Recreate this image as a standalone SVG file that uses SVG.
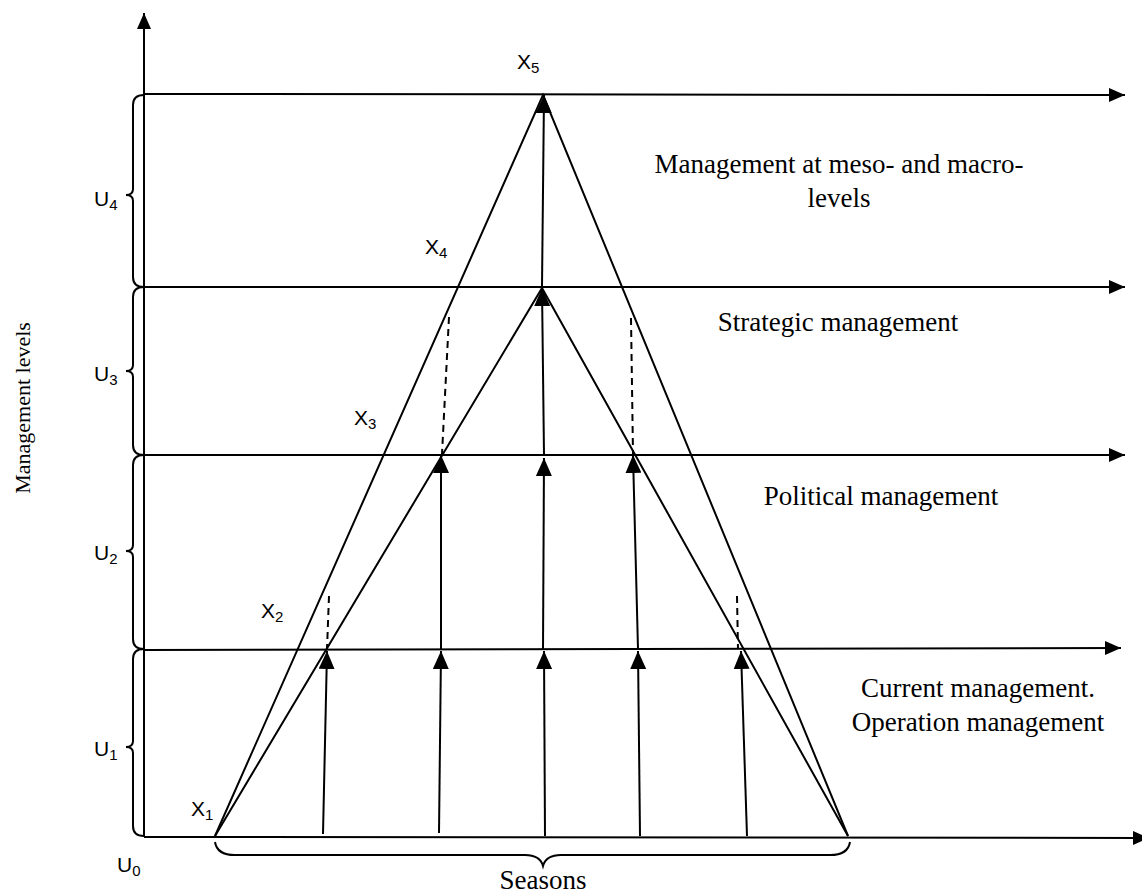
<svg xmlns="http://www.w3.org/2000/svg" width="1142" height="895" viewBox="0 0 1142 895">
<style>
.ln{stroke:#000;stroke-width:2;fill:none}
.dash{stroke:#000;stroke-width:2;fill:none;stroke-dasharray:7 5}
.br{stroke:#000;stroke-width:2;fill:none}
.serif{font-family:"Liberation Serif","Times New Roman",serif;font-size:27px;fill:#000}
.sans{font-family:"Liberation Sans",Arial,sans-serif;font-size:21px;fill:#000}
.sub{font-size:15px}
</style>
<defs>
<marker id="ah" viewBox="0 0 18 16" refX="18" refY="8" markerWidth="18" markerHeight="16" markerUnits="userSpaceOnUse" orient="auto">
<path d="M0,0 L18,8 L0,16 z" fill="#000"/>
</marker>
<marker id="ahh" viewBox="0 0 16 14" refX="16" refY="7" markerWidth="16" markerHeight="14" markerUnits="userSpaceOnUse" orient="auto">
<path d="M0,0 L16,7 L0,14 z" fill="#000"/>
</marker>
</defs>
<rect width="1142" height="895" fill="#fff"/>
<g id="axes">
<line class="ln" x1="144" y1="836" x2="144" y2="13" marker-end="url(#ahh)"/>
<line class="ln" x1="144" y1="837" x2="1149" y2="838" marker-end="url(#ahh)"/>
</g>
<g id="levels">
<line class="ln" x1="144" y1="94" x2="1125" y2="95" marker-end="url(#ahh)"/>
<line class="ln" x1="144" y1="287" x2="1125" y2="287" marker-end="url(#ahh)"/>
<line class="ln" x1="144" y1="455" x2="1125" y2="455" marker-end="url(#ahh)"/>
<line class="ln" x1="144" y1="650" x2="1121" y2="648" marker-end="url(#ahh)"/>
</g>
<g id="triangles">
<polyline class="ln" points="215,836 543,95 848,836"/>
<polyline class="ln" points="215,836 542,288 848,836"/>
</g>
<g id="connectors">
<line class="ln" x1="323" y1="834" x2="327" y2="651" marker-end="url(#ah)"/>
<line class="ln" x1="439" y1="833" x2="441" y2="651" marker-end="url(#ah)"/>
<line class="ln" x1="545" y1="836" x2="544" y2="651" marker-end="url(#ah)"/>
<line class="ln" x1="640" y1="836" x2="638" y2="651" marker-end="url(#ah)"/>
<line class="ln" x1="747" y1="836" x2="741" y2="651" marker-end="url(#ah)"/>
<line class="ln" x1="441" y1="649" x2="441" y2="455" marker-end="url(#ah)"/>
<line class="ln" x1="543" y1="649" x2="544" y2="458" marker-end="url(#ah)"/>
<line class="ln" x1="638" y1="649" x2="633" y2="455" marker-end="url(#ah)"/>
<line class="ln" x1="544" y1="455" x2="542" y2="288" marker-end="url(#ah)"/>
<line class="ln" x1="542" y1="287" x2="544" y2="95" marker-end="url(#ah)"/>
<line class="dash" x1="449" y1="317" x2="442" y2="454"/>
<line class="dash" x1="631" y1="318" x2="633" y2="454"/>
<line class="dash" x1="329" y1="596" x2="327" y2="649"/>
<line class="dash" x1="737" y1="596" x2="738" y2="649"/>
</g>
<g id="braces">
<path class="br" d="M144,95 Q133,95 133,105 L133,189 Q133,195 126,195 Q133,195 133,201 L133,277 Q133,287 144,287"/>
<path class="br" d="M144,287 Q133,287 133,297 L133,365 Q133,371 126,371 Q133,371 133,377 L133,445 Q133,455 144,455"/>
<path class="br" d="M144,455 Q133,455 133,465 L133,545 Q133,551 126,551 Q133,551 133,557 L133,639 Q133,649 144,649"/>
<path class="br" d="M144,649 Q133,649 133,659 L133,741 Q133,747 126,747 Q133,747 133,753 L133,826 Q133,836 144,836"/>
<path class="br" d="M215,842 Q217,855 235,855 L525,855 Q540,855 543,866 Q546,855 561,855 L830,855 Q848,855 850,842"/>
</g>
<g id="labels">
<text class="sans" x="517" y="69">X<tspan class="sub" dy="4">5</tspan></text>
<text class="sans" x="425" y="254">X<tspan class="sub" dy="4">4</tspan></text>
<text class="sans" x="354" y="425">X<tspan class="sub" dy="4">3</tspan></text>
<text class="sans" x="261" y="618">X<tspan class="sub" dy="4">2</tspan></text>
<text class="sans" x="191" y="816">X<tspan class="sub" dy="4">1</tspan></text>
<text class="sans" x="94" y="206">U<tspan class="sub" dy="4">4</tspan></text>
<text class="sans" x="94" y="381">U<tspan class="sub" dy="4">3</tspan></text>
<text class="sans" x="94" y="560">U<tspan class="sub" dy="4">2</tspan></text>
<text class="sans" x="94" y="756">U<tspan class="sub" dy="4">1</tspan></text>
<text class="sans" x="117" y="872">U<tspan class="sub" dy="4">0</tspan></text>
<text class="serif" x="839" y="173" text-anchor="middle">Management at meso- and macro-</text>
<text class="serif" x="839" y="207" text-anchor="middle">levels</text>
<text class="serif" x="838" y="331" text-anchor="middle">Strategic management</text>
<text class="serif" x="881" y="505" text-anchor="middle">Political management</text>
<text class="serif" x="978" y="697" text-anchor="middle">Current management.</text>
<text class="serif" x="978" y="731" text-anchor="middle">Operation management</text>
<text class="serif" x="543" y="889" text-anchor="middle">Seasons</text>
<text class="serif" x="0" y="0" text-anchor="middle" transform="translate(30,408) rotate(-90)" style="font-size:22px">Management levels</text>
</g>
</svg>
